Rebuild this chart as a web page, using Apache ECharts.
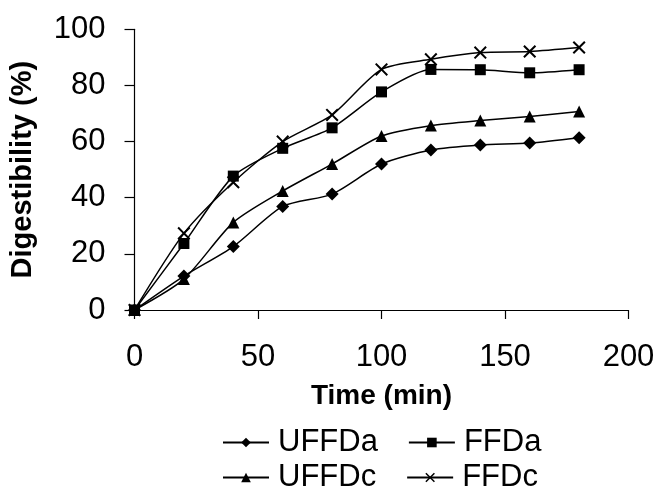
<!DOCTYPE html>
<html><head><meta charset="utf-8">
<script src="https://cdn.jsdelivr.net/npm/echarts@6/dist/echarts.min.js"></script>
<style>html,body{margin:0;padding:0;background:#fff}#c{width:660px;height:489px}</style>
</head><body><div id="c"></div>
<script>
var times = [0, 20, 40, 60, 80, 100, 120, 140, 160, 180];
var seriesNames = ['UFFDa', 'FFDa', 'UFFDc', 'FFDc'];
var UFFDa = [0, 12.1, 22.6, 36.9, 41.3, 52, 57, 58.8, 59.5, 61.4];
var FFDa  = [0, 23.7, 47.7, 57.6, 64.9, 77.7, 85.7, 85.6, 84.5, 85.6];
var UFFDc = [0, 11, 31.2, 42.4, 52, 62, 65.7, 67.5, 68.9, 70.7];
var FFDc  = [0, 27.3, 45.5, 60, 69.5, 85.7, 89.3, 91.7, 92.1, 93.5];
var xTicks = [0, 50, 100, 150, 200];
var yTicks = [0, 20, 40, 60, 80, 100];

var FONT = 'Liberation Sans, Arial, sans-serif';
var XPATH = 'path://M0,1.1 L1.1,0 L5,3.9 L8.9,0 L10,1.1 L6.1,5 L10,8.9 L8.9,10 L5,6.1 L1.1,10 L0,8.9 L3.9,5 Z';
var symbols = {UFFDa: ['diamond', 13], FFDa: ['rect', 11], UFFDc: ['triangle', 12], FFDc: [XPATH, 13]};
var dataMap = {UFFDa: UFFDa, FFDa: FFDa, UFFDc: UFFDc, FFDc: FFDc};

function pairs(arr) { return times.map(function (t, i) { return [t, arr[i]]; }); }

var series = ['UFFDa', 'UFFDc', 'FFDc', 'FFDa'].map(function (n) {
  return {
    name: n, type: 'line', data: pairs(dataMap[n]), smooth: 0.25,
    symbol: symbols[n][0], symbolSize: symbols[n][1], showSymbol: true,
    lineStyle: {color: '#000', width: 1.5},
    itemStyle: {color: '#000', borderColor: '#000', borderWidth: 0},
    emphasis: {disabled: true}, animation: false
  };
});

var legendText = {color: '#000', fontFamily: FONT, fontSize: 31, padding: [0, 0, 0, 4]};
var chart = echarts.init(document.getElementById('c'), null, {renderer: 'canvas'});
chart.setOption({
  backgroundColor: '#fff',
  animation: false,
  grid: {left: 134.5, right: 31.5, top: 29.3, bottom: 179},
  legend: [
    {data: [seriesNames[0], seriesNames[1]], left: 222, top: 427, itemWidth: 46, itemHeight: 12, itemGap: 30, textStyle: legendText, padding: 0},
    {data: [seriesNames[2], seriesNames[3]], left: 222, top: 462, itemWidth: 46, itemHeight: 12, itemGap: 30, textStyle: legendText, padding: 0}
  ],
  xAxis: {
    type: 'value', min: 0, max: 200, interval: 50,
    name: 'Time (min)', nameLocation: 'middle', nameGap: 72,
    nameTextStyle: {color: '#000', fontFamily: FONT, fontSize: 28, fontWeight: 'bold'},
    axisLine: {show: true, lineStyle: {color: '#000', width: 1.2}},
    axisTick: {show: true, inside: false, length: 9, lineStyle: {color: '#000', width: 1.2}},
    axisLabel: {color: '#000', fontFamily: FONT, fontSize: 31, margin: 32,
      formatter: function (v) { return xTicks.indexOf(v) >= 0 ? String(v) : ''; }},
    splitLine: {show: false}
  },
  yAxis: {
    type: 'value', min: 0, max: 100, interval: 20,
    name: 'Digestibility (%)', nameLocation: 'middle', nameGap: 97, nameRotate: 90,
    nameTextStyle: {color: '#000', fontFamily: FONT, fontSize: 29, fontWeight: 'bold'},
    axisLine: {show: true, lineStyle: {color: '#000', width: 1.2}},
    axisTick: {show: true, inside: false, length: 10, lineStyle: {color: '#000', width: 1.2}},
    axisLabel: {color: '#000', fontFamily: FONT, fontSize: 31, margin: 29,
      formatter: function (v) { return yTicks.indexOf(v) >= 0 ? String(v) : ''; }},
    splitLine: {show: false}
  },
  series: series
});
</script></body></html>
